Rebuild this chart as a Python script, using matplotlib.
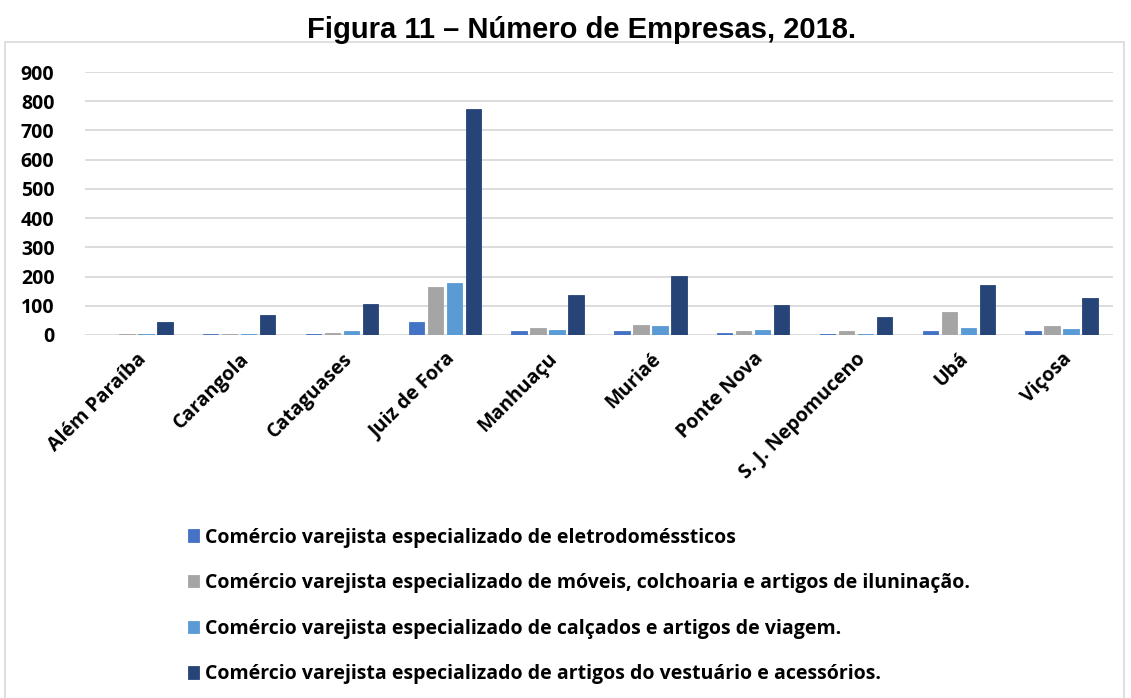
import numpy as np
import matplotlib.pyplot as plt
from matplotlib.patches import Rectangle

cidades = ["Além Paraíba", "Carangola", "Cataguases", "Juiz de Fora", "Manhuaçu",
           "Muriaé", "Ponte Nova", "S. J. Nepomuceno", "Ubá", "Viçosa"]
eletro = [0, 2, 3, 45, 14, 12, 7, 2, 12, 13]
moveis = [5, 5, 8, 163, 24, 33, 14, 15, 77, 31]
calcados = [3, 3, 15, 178, 16, 30, 18, 3, 25, 22]
vestuario = [45, 67, 105, 775, 138, 203, 103, 63, 172, 125]

series = [
    ("Comércio varejista especializado de eletrodoméssticos", eletro, "#4472C4"),
    ("Comércio varejista especializado de móveis, colchoaria e artigos de iluninação.", moveis, "#A5A5A5"),
    ("Comércio varejista especializado de calçados e artigos de viagem.", calcados, "#5B9BD5"),
    ("Comércio varejista especializado de artigos do vestuário e acessórios.", vestuario, "#264478"),
]

fonte = {"family": "Open Sans", "weight": "bold"}

fig = plt.figure(figsize=(11.31, 6.98), dpi=100)
ax = fig.add_axes([85 / 1131, 1 - 335 / 698, 1028 / 1131, 263 / 698])

# moldura do gráfico
fig.patches.append(Rectangle((5 / 1131, -0.05), 1119 / 1131, 1 - 42 / 698 + 0.05,
                             transform=fig.transFigure, fill=False,
                             edgecolor="#D9D9D9", linewidth=1.2))

x = np.arange(len(cidades))
w = 0.15
step = 0.185
for i, (nome, vals, cor) in enumerate(series):
    ax.bar(x + (i - 1.5) * step, vals, width=w, color=cor, label=nome,
           edgecolor=cor, linewidth=0.6, zorder=3)

ax.set_xlim(-0.5, len(cidades) - 0.5)
ax.set_ylim(0, 900)
ax.set_yticks(range(0, 1000, 100))
ax.grid(axis="y", color="#D9D9D9", linewidth=1.3, zorder=0)
for s in ax.spines.values():
    s.set_visible(False)
ax.tick_params(length=0)
ax.tick_params(axis="y", pad=22)
ax.set_yticklabels([str(v) for v in range(0, 1000, 100)], fontsize=14, **fonte)
ax.set_xticks(x)
ax.set_xticklabels(cidades, rotation=45, ha="right", rotation_mode="anchor",
                   fontsize=14, **fonte)
ax.tick_params(axis="x", pad=10)

fig.text(582 / 1131, 1 - 30 / 698, "Figura 11 – Número de Empresas, 2018.", ha="center",
         va="center", fontsize=21, fontweight="bold", family="Liberation Sans")

fig.legend(loc="upper left", bbox_to_anchor=(170 / 1131, 1 - 510 / 698), frameon=False,
           prop={"family": "Open Sans", "weight": "bold", "size": 14},
           labelspacing=1.32, handlelength=0.6, handleheight=0.6, handletextpad=0.3)

fig.savefig("out.png", dpi=100)
